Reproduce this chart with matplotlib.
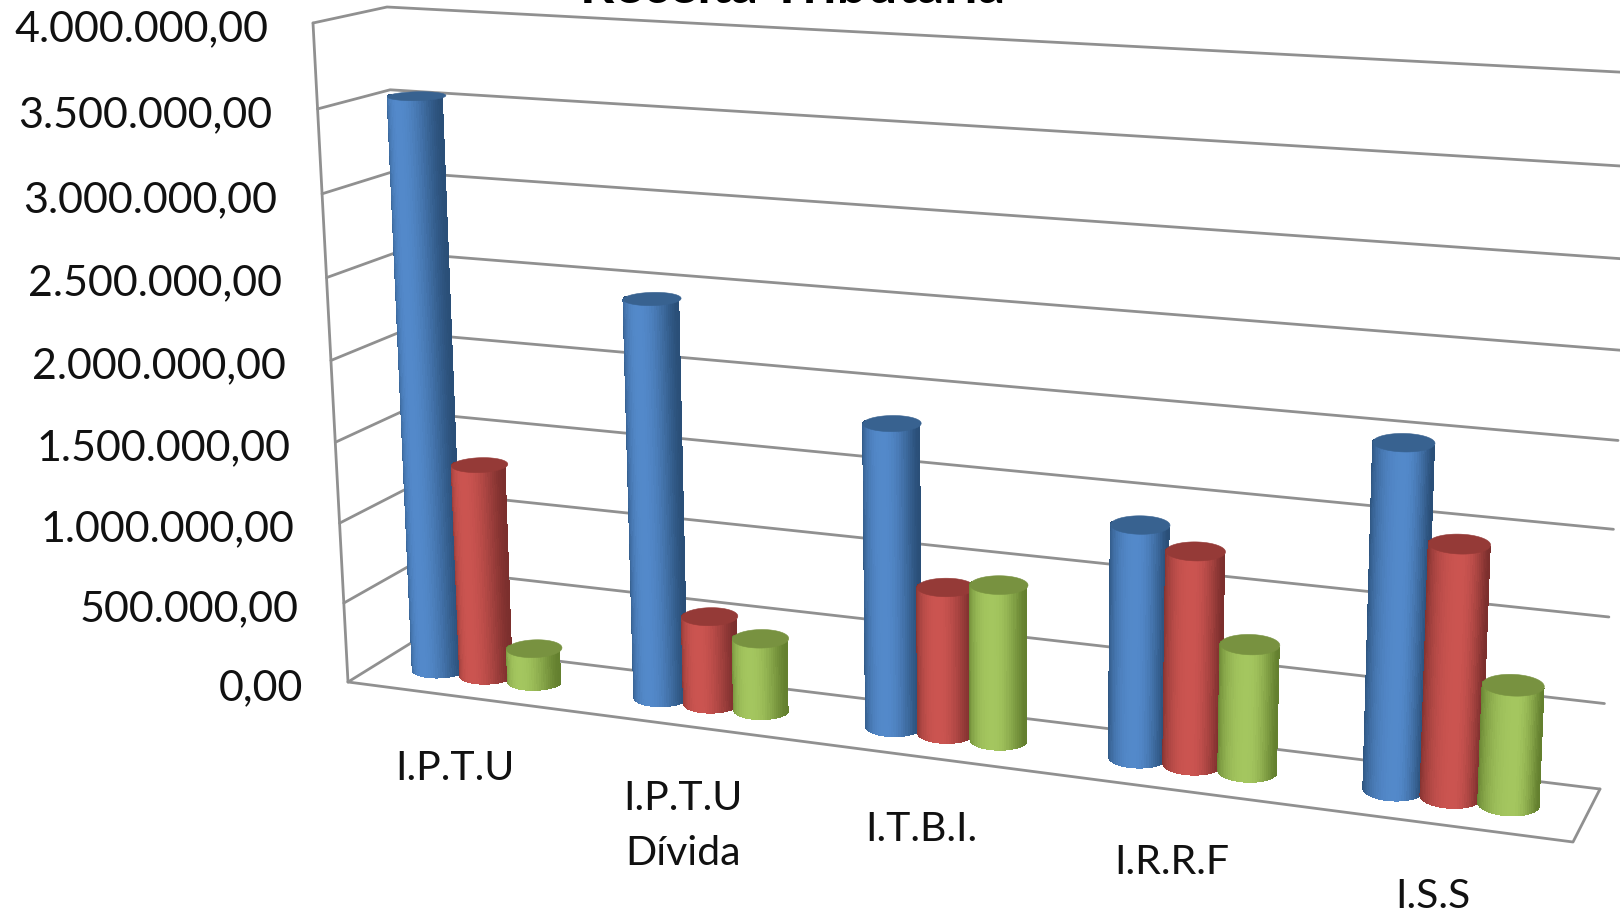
import numpy as np
import matplotlib
matplotlib.use("Agg")
import matplotlib.pyplot as plt
from matplotlib.collections import PolyCollection
from matplotlib.patches import Polygon

plt.rcParams["font.family"] = ["Lato", "DejaVu Sans"]

title = "Receita Tributária"
categories = ["I.P.T.U", "I.P.T.U\nDívida", "I.T.B.I.", "I.R.R.F", "I.S.S"]
blue_values = [3540000, 2440000, 1830000, 1380000, 2000000]
red_values = [1325000, 540000, 885000, 1260000, 1460000]
green_values = [205000, 440000, 935000, 750000, 690000]
tick_values = [0, 500000, 1000000, 1500000, 2000000, 2500000, 3000000, 3500000, 4000000]

# dark side, bright side, top cap
blue_colors = ("#2a4f78", "#5389ca", "#386290")
red_colors = ("#7c2f2d", "#cb5450", "#953a37")
green_colors = ("#64802f", "#a4c65f", "#789240")

VMAX = 4000000.0
NCAT = len(categories)


def fit_plane(corners):
    # homography from (u, v) with u in 0..1 and v in 0..1 to picture pixels
    src = [(0, 0), (1, 0), (0, 1), (1, 1)]
    a, b = [], []
    for (s, t), (x, y) in zip(src, corners):
        a.append([s, t, 1, 0, 0, 0, -s * x, -t * x])
        a.append([0, 0, 0, s, t, 1, -s * y, -t * y])
        b += [x, y]
    h = np.linalg.solve(np.array(a, float), np.array(b, float))
    return np.append(h, 1).reshape(3, 3)


# chart box corners: (cat 0, val 0), (cat end, val 0), (cat 0, val max), (cat end, val max)
front = fit_plane([(348, 682), (1573, 842), (313, 23), (1602, 108)])
back = fit_plane([(411, 643), (1600, 789), (387, 7), (1637, 73)])


def apply_plane(h, u, v):
    s = np.asarray(u, float) / NCAT
    t = np.asarray(v, float) / VMAX
    w = h[2, 0] * s + h[2, 1] * t + h[2, 2]
    x = (h[0, 0] * s + h[0, 1] * t + h[0, 2]) / w
    y = (h[1, 0] * s + h[1, 1] * t + h[1, 2]) / w
    return x, y


def project(u, v, d):
    # d = 0 front of the floor, d = 1 back wall
    fx, fy = apply_plane(front, u, v)
    bx, by = apply_plane(back, u, v)
    return (1 - d) * fx + d * bx, (1 - d) * fy + d * by


def mix(c1, c2, k):
    a = np.array(matplotlib.colors.to_rgb(c1))
    b = np.array(matplotlib.colors.to_rgb(c2))
    return tuple(a + (b - a) * k)


def cylinder(ax, uc, value, colors, z):
    ru, rd, dc = 0.112, 0.21, 0.53
    theta = np.linspace(0, np.pi, 37)
    us = uc - ru * np.cos(theta)
    ds = dc - rd * np.sin(theta)
    bx, by = project(us, 0, ds)
    tx, ty = project(us, value, ds)
    # soft silhouette under the facets keeps the outline smooth
    outline = np.column_stack([np.r_[bx, tx[::-1]], np.r_[by, ty[::-1]]])
    ax.add_patch(Polygon(outline, facecolor=mix(colors[0], colors[1], 0.5), edgecolor="none", zorder=z))
    peak = 0.42 + 0.05 * uc
    quads, cols = [], []
    for i in range(len(theta) - 1):
        quads.append([(bx[i], by[i]), (bx[i + 1], by[i + 1]), (tx[i + 1], ty[i + 1]), (tx[i], ty[i])])
        pos = (1 - np.cos((theta[i] + theta[i + 1]) / 2)) / 2
        span = peak if pos < peak else 1 - peak
        k = 1 - min(abs(pos - peak) / span, 1) ** 2.2
        cols.append(mix(colors[0], colors[1], k))
    ax.add_collection(PolyCollection(quads, facecolors=cols, edgecolors=cols, linewidths=0.5,
                                     antialiaseds=False, zorder=z + 0.2))
    ring = np.linspace(0, 2 * np.pi, 73)
    cx, cy = project(uc + ru * np.cos(ring), value, dc + rd * np.sin(ring))
    ax.add_patch(Polygon(np.column_stack([cx, cy]), facecolor=colors[2], edgecolor=colors[2], lw=0.4, zorder=z + 0.5))


fig = plt.figure(figsize=(16.2, 9.11), dpi=100)
ax = fig.add_axes([0, 0, 1, 1])
ax.set_xlim(0, 1620)
ax.set_ylim(911, 0)
ax.axis("off")

grid = dict(color="#909090", lw=2.0, solid_capstyle="round", zorder=1)

# gridlines on the back wall and the side wall
for val in tick_values:
    x, y = project(np.array([0, 0, NCAT]), val, np.array([0, 1, 1]))
    ax.plot(x, y, **grid)

# front left edge, floor front edge, floor right edge
x, y = project(np.array([0, 0]), np.array([0, VMAX]), 0)
ax.plot(x, y, **grid)
x, y = project(np.array([0, NCAT, NCAT]), 0, np.array([0, 0, 1]))
ax.plot(x, y, **grid)

series = [(blue_values, blue_colors), (red_values, red_colors), (green_values, green_colors)]
z = 2
for c in range(NCAT):
    for k, (values, colors) in enumerate(series):
        cylinder(ax, c + 0.49 + (k - 1) * 0.218, values[c], colors, z)
        z += 1

for val in tick_values:
    x, y = project(0, val, 0)
    txt = f"{val:,.2f}".replace(",", "X").replace(".", ",").replace("X", ".")
    ax.annotate(txt, (x, y), xytext=(-45, -6), textcoords="offset pixels", ha="right", va="center",
                fontsize=31, color="#111111", zorder=50)

for c, cat in enumerate(categories):
    x, y = project(c + 0.5, 0, 0)
    ax.annotate(cat, (x - 4, y), xytext=(0, -54), textcoords="offset pixels", ha="center", va="top",
                fontsize=29.5, color="#111111", linespacing=1.6, zorder=50)

ax.text(793, 3, title, ha="center", va="baseline", fontsize=38.5, fontweight="bold", color="black", zorder=50)

fig.savefig("out.png", dpi=100, facecolor="white")
